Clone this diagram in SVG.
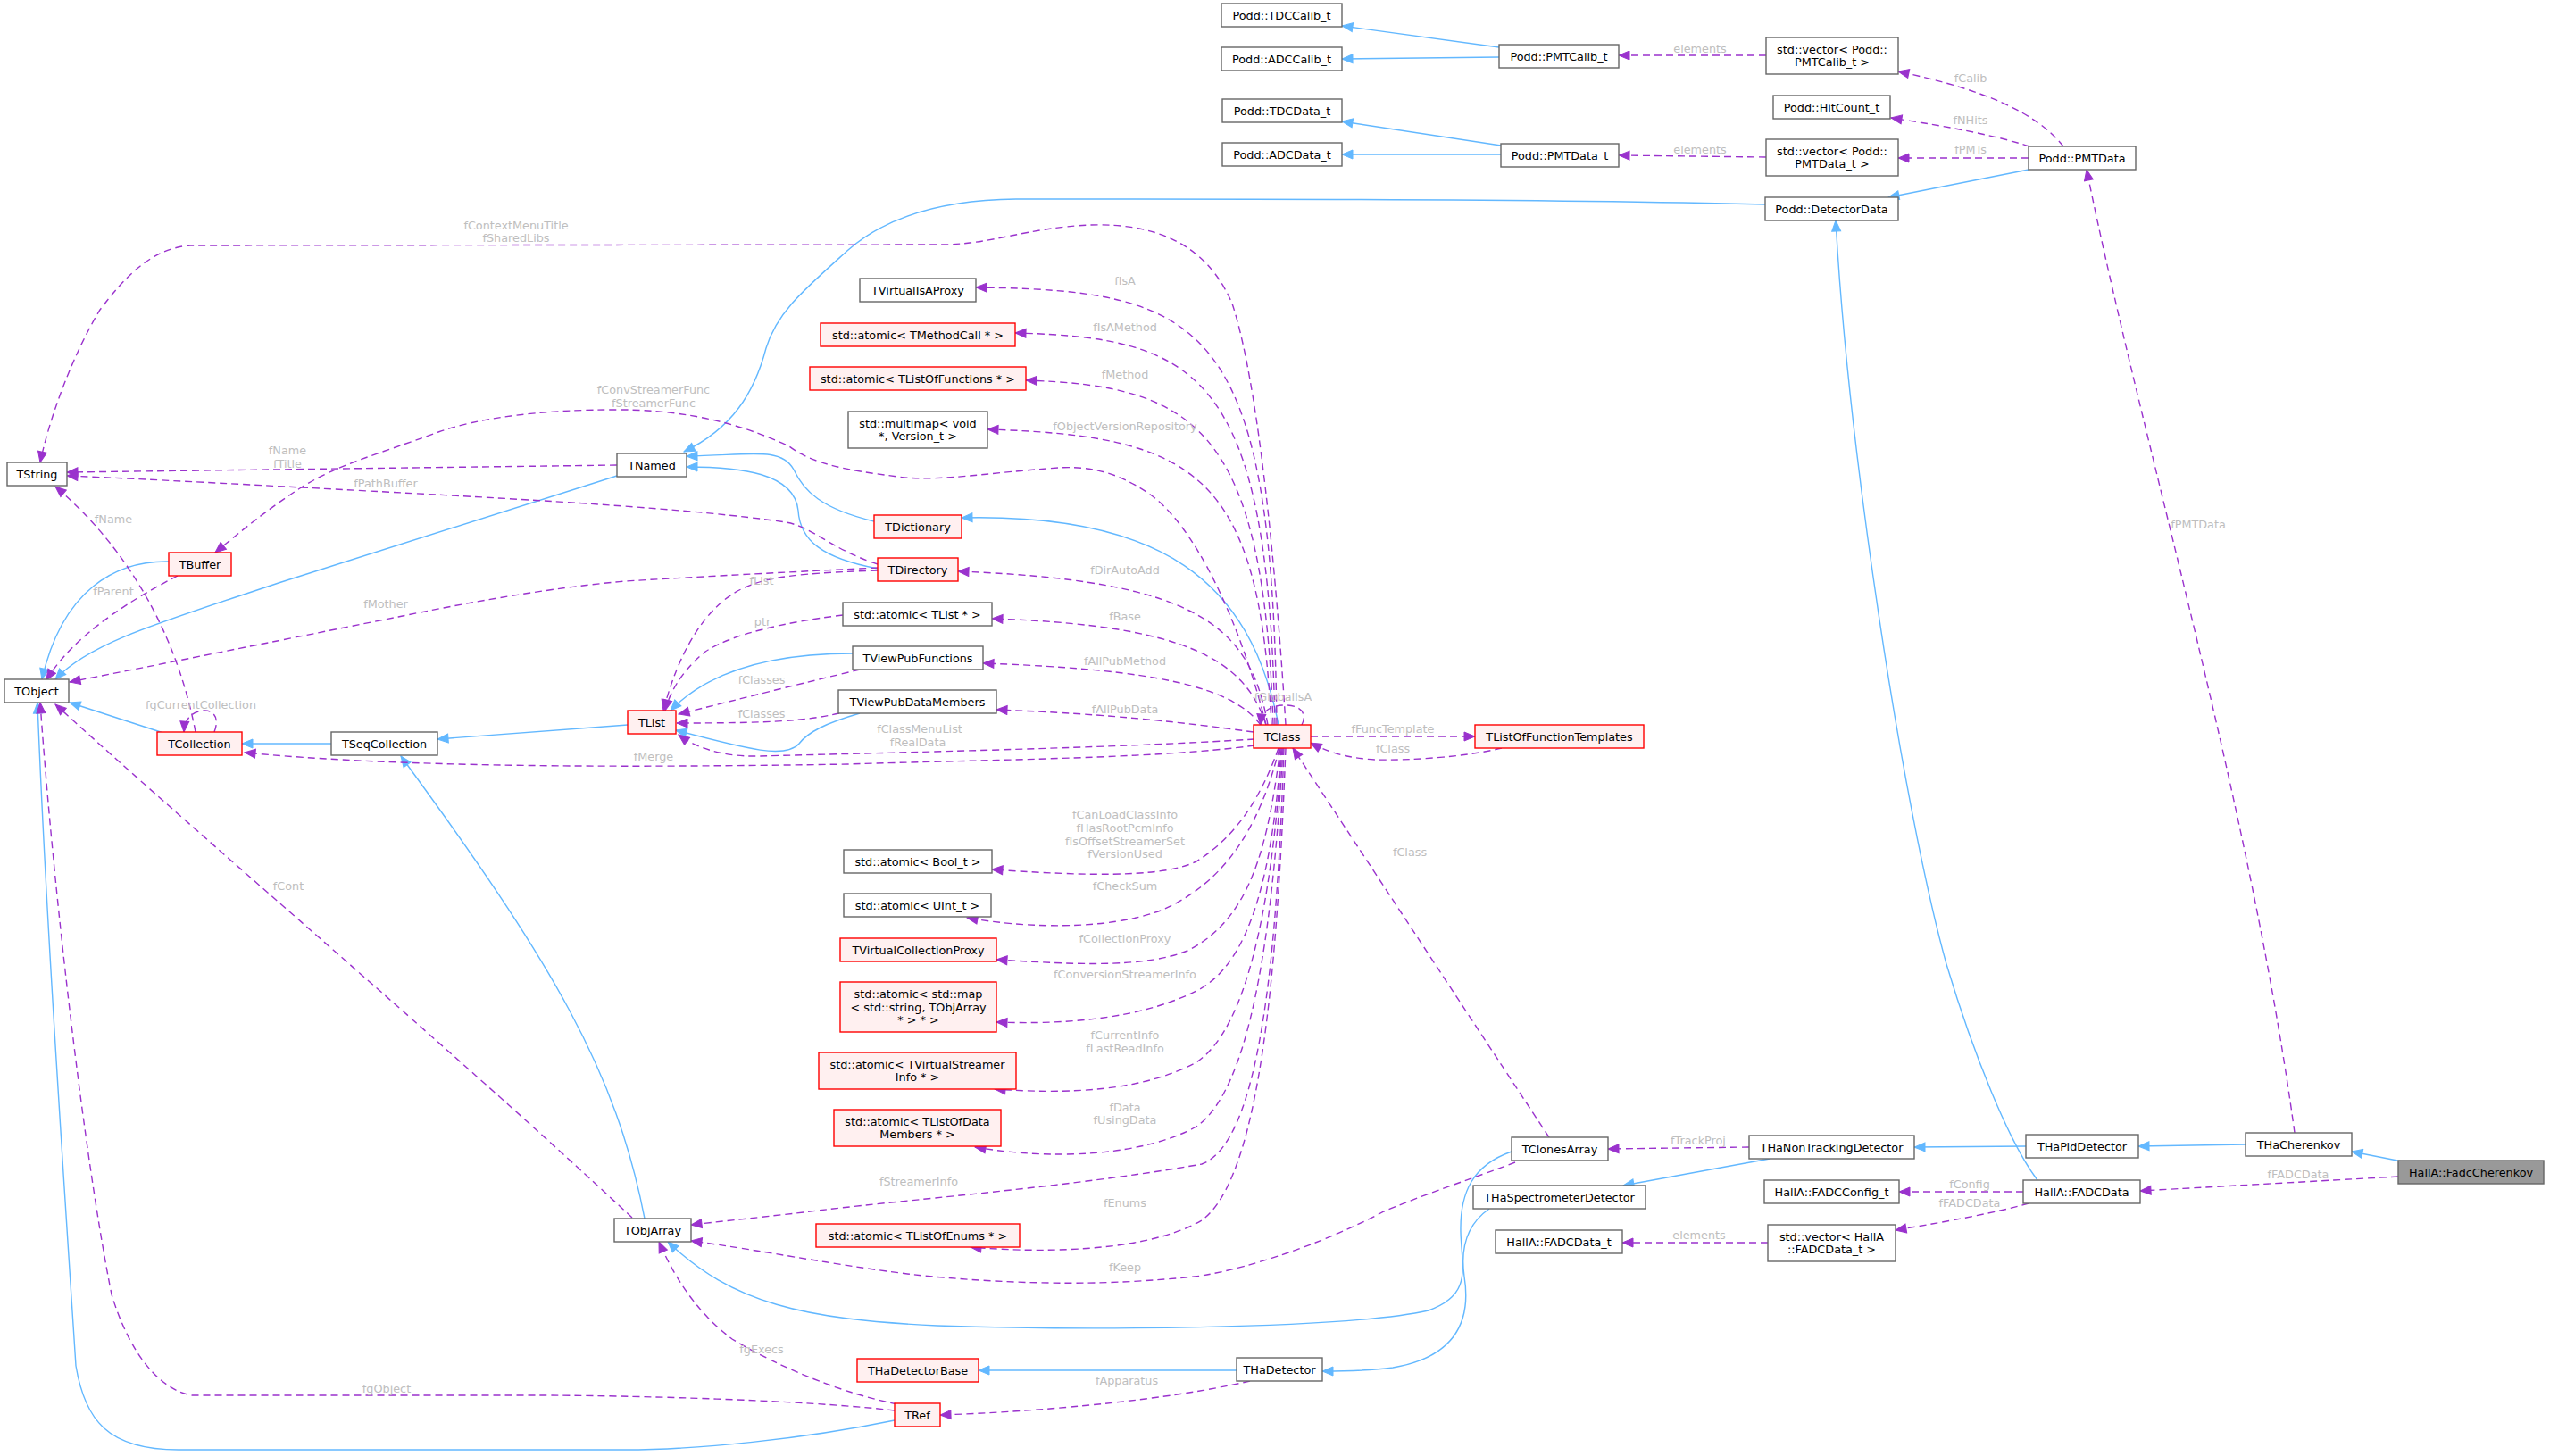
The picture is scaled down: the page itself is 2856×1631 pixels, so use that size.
<svg xmlns="http://www.w3.org/2000/svg" width="2856" height="1631" viewBox="0 0 2856 1631">
<style>
.n rect{fill:#fff;stroke:#666;stroke-width:1.4}
.n.r rect{fill:#FFF0F0;stroke:#FF0000}
.n.h rect{fill:#999;stroke:#666}
.n text{font-family:"DejaVu Sans",sans-serif;font-size:12.8px;fill:#000;text-anchor:middle}
.b{fill:none;stroke:#63B8FF;stroke-width:1.4}
.u{fill:none;stroke:#9A32CD;stroke-width:1.4;stroke-dasharray:8,5}
.l{font-family:"DejaVu Sans",sans-serif;font-size:12.8px;fill:#BEBEBE;text-anchor:middle}
</style>
<defs>
<marker id="ab" markerUnits="userSpaceOnUse" markerWidth="14" markerHeight="12" refX="13" refY="6" orient="auto"><path d="M1,1 L13,6 L1,11 z" fill="#63B8FF" stroke="#63B8FF"/></marker>
<marker id="ap" markerUnits="userSpaceOnUse" markerWidth="14" markerHeight="12" refX="13" refY="6" orient="auto"><path d="M1,1 L13,6 L1,11 z" fill="#9A32CD" stroke="#9A32CD"/></marker>
</defs>
<rect width="2856" height="1631" fill="#fff"/>
<g id="edges">
<!-- inheritance -->
<path class="b" marker-end="url(#ab)" d="M1679,53 L1503,29"/>
<path class="b" marker-end="url(#ab)" d="M1679,64 L1503,66"/>
<path class="b" marker-end="url(#ab)" d="M1681,163 L1503,136"/>
<path class="b" marker-end="url(#ab)" d="M1681,173 L1503,173"/>
<path class="b" marker-end="url(#ab)" d="M2272,190 L2115,221"/>
<path class="b" marker-end="url(#ab)" d="M1977,229 C1700,222 1300,223 1138,223 C1050,224 990,245 950,280 C900,325 870,350 858,390 C845,440 820,480 766,506"/>
<path class="b" marker-end="url(#ab)" d="M2282,1322 C2250,1280 2210,1180 2180,1080 C2130,900 2070,500 2056,247"/>
<path class="b" marker-end="url(#ab)" d="M2690,1301 L2634,1290"/>
<path class="b" marker-end="url(#ab)" d="M2515,1282 L2395,1284"/>
<path class="b" marker-end="url(#ab)" d="M2269,1284 L2144,1285"/>
<path class="b" marker-end="url(#ab)" d="M1982,1298 L1818,1328"/>
<path class="b" marker-end="url(#ab)" d="M1668,1354 C1645,1370 1635,1395 1640,1430 C1648,1480 1630,1520 1560,1532 C1530,1536 1500,1536 1481,1536"/>
<path class="b" marker-end="url(#ab)" d="M1385,1535 L1096,1535"/>
<path class="b" marker-end="url(#ab)" d="M1693,1290 C1650,1305 1635,1335 1636,1380 C1637,1420 1650,1450 1600,1468 C1500,1490 1200,1490 1050,1485 C900,1478 820,1460 748,1391"/>
<path class="b" marker-end="url(#ab)" d="M722,1365 C690,1200 620,1080 449,847"/>
<path class="b" marker-end="url(#ab)" d="M371,833 L271,833"/>
<path class="b" marker-end="url(#ab)" d="M183,821 L78,787"/>
<path class="b" marker-end="url(#ab)" d="M189,629 C130,628 70,660 47,761"/>
<path class="b" marker-end="url(#ab)" d="M691,533 L312,653 C180,697 100,720 62,761"/>
<path class="b" marker-end="url(#ab)" d="M979,584 C920,570 900,550 889,526 C875,500 840,510 769,511"/>
<path class="b" marker-end="url(#ab)" d="M983,637 C920,625 896,605 894,572 C890,530 830,523 769,523"/>
<path class="b" marker-end="url(#ab)" d="M955,732 C880,732 800,745 751,796"/>
<path class="b" marker-end="url(#ab)" d="M963,799 C925,810 905,820 895,833 C880,850 840,840 757,818"/>
<path class="b" marker-end="url(#ab)" d="M703,812 L490,828"/>
<path class="b" marker-end="url(#ab)" d="M1432,812 C1400,650 1300,575 1077,580"/>
<path class="b" marker-end="url(#ab)" d="M1002,1591 C900,1612 780,1624 700,1624 L200,1624 C120,1624 95,1590 85,1530 C70,1300 50,1000 42,787"/>
<!-- usage -->
<path class="u" marker-end="url(#ap)" d="M1978,62 L1813,62"/>
<text class="l" x="1904" y="59">elements</text>
<path class="u" marker-end="url(#ap)" d="M2311,164 C2280,125 2220,100 2126,80"/>
<text class="l" x="2207" y="92">fCalib</text>
<path class="u" marker-end="url(#ap)" d="M2273,164 C2230,150 2170,140 2118,132"/>
<text class="l" x="2207" y="139">fNHits</text>
<path class="u" marker-end="url(#ap)" d="M2272,177 L2126,177"/>
<text class="l" x="2207" y="172">fPMTs</text>
<path class="u" marker-end="url(#ap)" d="M1978,176 L1813,174"/>
<text class="l" x="1904" y="172">elements</text>
<path class="u" marker-end="url(#ap)" d="M2570,1269 C2520,900 2400,500 2337,190"/>
<text class="l" x="2462" y="592">fPMTData</text>
<path class="u" marker-end="url(#ap)" d="M2686,1318 L2397,1334"/>
<text class="l" x="2574" y="1320">fFADCData</text>
<path class="u" marker-end="url(#ap)" d="M1959,1285 L1801,1287"/>
<text class="l" x="1902" y="1282">fTrackProj</text>
<path class="u" marker-end="url(#ap)" d="M2266,1335 L2127,1335"/>
<text class="l" x="2206" y="1331">fConfig</text>
<path class="u" marker-end="url(#ap)" d="M2272,1348 C2230,1360 2170,1370 2123,1378"/>
<text class="l" x="2206" y="1352">fFADCData</text>
<path class="u" marker-end="url(#ap)" d="M1980,1392 L1817,1392"/>
<text class="l" x="1903" y="1388">elements</text>
<path class="u" marker-end="url(#ap)" d="M1400,1547 C1300,1570 1150,1582 1053,1585"/>
<text class="l" x="1262" y="1551">fApparatus</text>
<path class="u" marker-end="url(#ap)" d="M1005,1573 C940,1560 870,1530 820,1500 C780,1470 755,1430 738,1391"/>
<text class="l" x="853" y="1516">fgExecs</text>
<path class="u" marker-end="url(#ap)" d="M1002,1580 C900,1568 700,1563 600,1563 L215,1563 C170,1555 140,1500 125,1450 C95,1300 60,1000 45,787"/>
<text class="l" x="433" y="1560">fgObject</text>
<path class="u" marker-end="url(#ap)" d="M708,1364 C500,1170 250,960 62,789"/>
<text class="l" x="323" y="997">fCont</text>
<path class="u" marker-end="url(#ap)" d="M219,820 C200,720 150,620 62,545"/>
<text class="l" x="127" y="586">fName</text>
<path class="u" marker-end="url(#ap)" d="M240,820 C246,805 240,795 228,796 C215,797 207,805 206,820"/>
<text class="l" x="225" y="794">fgCurrentCollection</text>
<path class="u" marker-end="url(#ap)" d="M199,645 C140,675 80,715 52,762"/>
<text class="l" x="127" y="667">fParent</text>
<path class="u" marker-end="url(#ap)" d="M1418,812 C1390,700 1340,590 1287,553 C1250,528 1220,522 1185,524 C1100,530 1050,540 1006,534 C950,527 910,520 884,500 C820,470 760,460 700,459 C600,458 530,470 491,484 C420,510 380,520 339,545 C300,570 270,595 241,619"/>
<text class="l" x="732" y="441">fConvStreamerFunc</text>
<text class="l" x="732" y="456">fStreamerFunc</text>
<path class="u" marker-end="url(#ap)" d="M691,521 L75,529"/>
<text class="l" x="322" y="509">fName</text>
<text class="l" x="322" y="524">fTitle</text>
<path class="u" marker-end="url(#ap)" d="M983,632 C930,615 910,590 880,585 C780,570 600,560 432,551 C300,544 170,537 75,533"/>
<text class="l" x="432" y="546">fPathBuffer</text>
<path class="u" marker-end="url(#ap)" d="M983,636 C900,640 800,645 700,651 C600,660 500,680 446,691 C300,720 150,750 78,764"/>
<text class="l" x="432" y="681">fMother</text>
<path class="u" marker-end="url(#ap)" d="M983,639 C900,642 860,645 830,660 C790,680 760,730 743,796"/>
<text class="l" x="853" y="655">fList</text>
<path class="u" marker-end="url(#ap)" d="M944,689 C880,697 820,710 790,730 C765,750 750,775 745,796"/>
<text class="l" x="854" y="701">ptr</text>
<path class="u" marker-end="url(#ap)" d="M963,750 C900,765 820,785 760,800"/>
<text class="l" x="853" y="766">fClasses</text>
<path class="u" marker-end="url(#ap)" d="M940,799 C900,808 860,810 758,810"/>
<text class="l" x="853" y="804">fClasses</text>
<path class="u" marker-end="url(#ap)" d="M1405,828 C1250,838 1000,843 850,847 C810,848 780,838 760,823"/>
<text class="l" x="1030" y="821">fClassMenuList</text>
<text class="l" x="1028" y="836">fRealData</text>
<path class="u" marker-end="url(#ap)" d="M1405,835 C1300,850 1100,851 950,856 C700,860 450,860 274,843"/>
<text class="l" x="732" y="852">fMerge</text>
<path class="u" marker-end="url(#ap)" d="M1440,812 C1430,650 1410,430 1380,340 C1350,270 1290,250 1221,252 C1150,255 1110,274 1055,274 L213,275 C170,278 140,310 112,347 C80,400 55,470 45,518"/>
<text class="l" x="578" y="257">fContextMenuTitle</text>
<text class="l" x="578" y="271">fSharedLibs</text>
<path class="u" marker-end="url(#ap)" d="M1430,812 C1425,360 1350,325 1093,322"/>
<text class="l" x="1260" y="319">fIsA</text>
<path class="u" marker-end="url(#ap)" d="M1428,812 C1420,420 1345,378 1137,373"/>
<text class="l" x="1260" y="371">fIsAMethod</text>
<path class="u" marker-end="url(#ap)" d="M1426,812 C1415,480 1340,432 1149,426"/>
<text class="l" x="1260" y="424">fMethod</text>
<path class="u" marker-end="url(#ap)" d="M1424,812 C1410,530 1340,488 1106,481"/>
<text class="l" x="1260" y="482">fObjectVersionRepository</text>
<path class="u" marker-end="url(#ap)" d="M1420,812 C1400,700 1340,650 1073,640"/>
<text class="l" x="1260" y="643">fDirAutoAdd</text>
<path class="u" marker-end="url(#ap)" d="M1418,812 C1395,740 1330,700 1111,693"/>
<text class="l" x="1260" y="695">fBase</text>
<path class="u" marker-end="url(#ap)" d="M1412,812 C1380,770 1300,750 1101,743"/>
<text class="l" x="1260" y="745">fAllPubMethod</text>
<path class="u" marker-end="url(#ap)" d="M1404,820 C1330,810 1250,800 1116,795"/>
<text class="l" x="1260" y="799">fAllPubData</text>
<path class="u" marker-end="url(#ap)" d="M1458,812 C1465,798 1455,790 1440,790 C1420,790 1413,798 1412,812"/>
<text class="l" x="1437" y="785">fGlobalIsA</text>
<path class="u" marker-end="url(#ap)" d="M1468,825 L1652,825"/>
<text class="l" x="1560" y="821">fFuncTemplate</text>
<path class="u" marker-end="url(#ap)" d="M1682,838 C1640,848 1580,852 1540,851 C1510,849 1490,844 1468,832"/>
<text class="l" x="1560" y="843">fClass</text>
<path class="u" marker-end="url(#ap)" d="M1735,1274 L1448,838"/>
<text class="l" x="1579" y="959">fClass</text>
<path class="u" marker-end="url(#ap)" d="M1432,838 C1410,900 1380,940 1340,965 C1300,985 1200,980 1111,974"/>
<text class="l" x="1260" y="917">fCanLoadClassInfo</text>
<text class="l" x="1260" y="932">fHasRootPcmInfo</text>
<text class="l" x="1260" y="947">fIsOffsetStreamerSet</text>
<text class="l" x="1260" y="961">fVersionUsed</text>
<path class="u" marker-end="url(#ap)" d="M1433,838 C1410,930 1370,990 1300,1020 C1240,1042 1150,1040 1083,1028"/>
<text class="l" x="1260" y="997">fCheckSum</text>
<path class="u" marker-end="url(#ap)" d="M1434,838 C1420,950 1400,1030 1330,1065 C1280,1085 1200,1080 1116,1075"/>
<text class="l" x="1260" y="1056">fCollectionProxy</text>
<path class="u" marker-end="url(#ap)" d="M1435,838 C1425,980 1400,1080 1340,1110 C1280,1140 1200,1148 1116,1145"/>
<text class="l" x="1260" y="1096">fConversionStreamerInfo</text>
<path class="u" marker-end="url(#ap)" d="M1436,838 C1425,1000 1400,1150 1340,1190 C1280,1222 1200,1226 1114,1220"/>
<text class="l" x="1260" y="1164">fCurrentInfo</text>
<text class="l" x="1260" y="1179">fLastReadInfo</text>
<path class="u" marker-end="url(#ap)" d="M1437,838 C1425,1050 1400,1220 1340,1262 C1280,1295 1180,1300 1092,1285"/>
<text class="l" x="1260" y="1245">fData</text>
<text class="l" x="1260" y="1259">fUsingData</text>
<path class="u" marker-end="url(#ap)" d="M1438,838 C1430,1080 1410,1280 1346,1304 C1200,1330 1000,1345 900,1358 C830,1366 800,1369 774,1372"/>
<text class="l" x="1029" y="1328">fStreamerInfo</text>
<path class="u" marker-end="url(#ap)" d="M1440,838 C1430,1100 1410,1320 1346,1367 C1290,1400 1180,1405 1087,1397"/>
<text class="l" x="1260" y="1352">fEnums</text>
<path class="u" marker-end="url(#ap)" d="M1697,1302 C1650,1320 1600,1336 1550,1357 C1480,1394 1400,1420 1346,1429 C1250,1440 1150,1440 1034,1429 C950,1420 850,1400 774,1390"/>
<text class="l" x="1260" y="1424">fKeep</text>
</g>
<g id="nodes">
<g id="n-TDCCalib" class="n"><rect x="1368" y="4" width="135" height="26"/><text x="1435.5" y="21.5">Podd::TDCCalib_t</text></g>
<g id="n-ADCCalib" class="n"><rect x="1368" y="53" width="135" height="26"/><text x="1435.5" y="70.5">Podd::ADCCalib_t</text></g>
<g id="n-PMTCalib" class="n"><rect x="1679" y="50" width="134" height="26"/><text x="1746" y="67.5">Podd::PMTCalib_t</text></g>
<g id="n-VecPMTCalib" class="n"><rect x="1978" y="42" width="148" height="41"/><text x="2052" y="59.75">std::vector&lt; Podd::</text><text x="2052" y="74.25">PMTCalib_t &gt;</text></g>
<g id="n-HitCount" class="n"><rect x="1986" y="107" width="131" height="26"/><text x="2051.5" y="124.5">Podd::HitCount_t</text></g>
<g id="n-TDCData" class="n"><rect x="1369" y="111" width="134" height="26"/><text x="1436" y="128.5">Podd::TDCData_t</text></g>
<g id="n-ADCData" class="n"><rect x="1369" y="160" width="134" height="26"/><text x="1436" y="177.5">Podd::ADCData_t</text></g>
<g id="n-PMTDataT" class="n"><rect x="1681" y="161" width="132" height="26"/><text x="1747" y="178.5">Podd::PMTData_t</text></g>
<g id="n-VecPMTData" class="n"><rect x="1978" y="156" width="148" height="41"/><text x="2052" y="173.75">std::vector&lt; Podd::</text><text x="2052" y="188.25">PMTData_t &gt;</text></g>
<g id="n-PMTData" class="n"><rect x="2272" y="164" width="120" height="26"/><text x="2332" y="181.5">Podd::PMTData</text></g>
<g id="n-DetectorData" class="n"><rect x="1977" y="221" width="149" height="26"/><text x="2051.5" y="238.5">Podd::DetectorData</text></g>
<g id="n-TString" class="n"><rect x="8" y="518" width="67" height="26"/><text x="41.5" y="535.5">TString</text></g>
<g id="n-TNamed" class="n"><rect x="691" y="508" width="78" height="26"/><text x="730" y="525.5">TNamed</text></g>
<g id="n-TBuffer" class="n r"><rect x="189" y="619" width="70" height="26"/><text x="224" y="636.5">TBuffer</text></g>
<g id="n-TObject" class="n"><rect x="5" y="761" width="72" height="26"/><text x="41" y="778.5">TObject</text></g>
<g id="n-TCollection" class="n r"><rect x="176" y="820" width="95" height="26"/><text x="223.5" y="837.5">TCollection</text></g>
<g id="n-TSeqCollection" class="n"><rect x="371" y="820" width="119" height="26"/><text x="430.5" y="837.5">TSeqCollection</text></g>
<g id="n-TList" class="n r"><rect x="703" y="796" width="54" height="26"/><text x="730" y="813.5">TList</text></g>
<g id="n-TVirtualIsAProxy" class="n"><rect x="963" y="312" width="130" height="26"/><text x="1028" y="329.5">TVirtualIsAProxy</text></g>
<g id="n-AtomicMethodCall" class="n r"><rect x="919" y="362" width="218" height="26"/><text x="1028" y="379.5">std::atomic&lt; TMethodCall * &gt;</text></g>
<g id="n-AtomicListOfFunctions" class="n r"><rect x="907" y="411" width="242" height="26"/><text x="1028" y="428.5">std::atomic&lt; TListOfFunctions * &gt;</text></g>
<g id="n-Multimap" class="n"><rect x="950" y="461" width="156" height="41"/><text x="1028" y="478.75">std::multimap&lt; void</text><text x="1028" y="493.25">*, Version_t &gt;</text></g>
<g id="n-TDictionary" class="n r"><rect x="979" y="577" width="98" height="26"/><text x="1028" y="594.5">TDictionary</text></g>
<g id="n-TDirectory" class="n r"><rect x="983" y="625" width="90" height="26"/><text x="1028" y="642.5">TDirectory</text></g>
<g id="n-AtomicTList" class="n"><rect x="944" y="675" width="167" height="26"/><text x="1027.5" y="692.5">std::atomic&lt; TList * &gt;</text></g>
<g id="n-TViewPubFunctions" class="n"><rect x="955" y="724" width="146" height="26"/><text x="1028" y="741.5">TViewPubFunctions</text></g>
<g id="n-TViewPubDataMembers" class="n"><rect x="939" y="773" width="177" height="26"/><text x="1027.5" y="790.5">TViewPubDataMembers</text></g>
<g id="n-TClass" class="n r"><rect x="1404" y="812" width="64" height="26"/><text x="1436" y="829.5">TClass</text></g>
<g id="n-TListOfFunctionTemplates" class="n r"><rect x="1652" y="812" width="189" height="26"/><text x="1746.5" y="829.5">TListOfFunctionTemplates</text></g>
<g id="n-AtomicBool" class="n"><rect x="945" y="952" width="166" height="26"/><text x="1028" y="969.5">std::atomic&lt; Bool_t &gt;</text></g>
<g id="n-AtomicUInt" class="n"><rect x="945" y="1001" width="165" height="26"/><text x="1027.5" y="1018.5">std::atomic&lt; UInt_t &gt;</text></g>
<g id="n-TVirtualCollectionProxy" class="n r"><rect x="941" y="1051" width="175" height="26"/><text x="1028.5" y="1068.5">TVirtualCollectionProxy</text></g>
<g id="n-AtomicMap" class="n r"><rect x="941" y="1100" width="175" height="56"/><text x="1028.5" y="1118">std::atomic&lt; std::map</text><text x="1028.5" y="1132.5">&lt; std::string, TObjArray</text><text x="1028.5" y="1147">* &gt; * &gt;</text></g>
<g id="n-AtomicStreamerInfo" class="n r"><rect x="917" y="1179" width="221" height="41"/><text x="1027.5" y="1196.75">std::atomic&lt; TVirtualStreamer</text><text x="1027.5" y="1211.25">Info * &gt;</text></g>
<g id="n-AtomicDataMembers" class="n r"><rect x="934" y="1243" width="187" height="41"/><text x="1027.5" y="1260.75">std::atomic&lt; TListOfData</text><text x="1027.5" y="1275.25">Members * &gt;</text></g>
<g id="n-TObjArray" class="n"><rect x="688" y="1365" width="86" height="26"/><text x="731" y="1382.5">TObjArray</text></g>
<g id="n-AtomicEnums" class="n r"><rect x="914" y="1371" width="228" height="26"/><text x="1028" y="1388.5">std::atomic&lt; TListOfEnums * &gt;</text></g>
<g id="n-TClonesArray" class="n"><rect x="1693" y="1274" width="108" height="26"/><text x="1747" y="1291.5">TClonesArray</text></g>
<g id="n-THaSpectrometerDetector" class="n"><rect x="1650" y="1328" width="193" height="26"/><text x="1746.5" y="1345.5">THaSpectrometerDetector</text></g>
<g id="n-THaNonTrackingDetector" class="n"><rect x="1959" y="1272" width="185" height="26"/><text x="2051.5" y="1289.5">THaNonTrackingDetector</text></g>
<g id="n-THaPidDetector" class="n"><rect x="2269" y="1271" width="126" height="26"/><text x="2332" y="1288.5">THaPidDetector</text></g>
<g id="n-THaCherenkov" class="n"><rect x="2515" y="1269" width="119" height="26"/><text x="2574.5" y="1286.5">THaCherenkov</text></g>
<g id="n-FadcCherenkov" class="n h"><rect x="2686" y="1300" width="163" height="26"/><text x="2767.5" y="1317.5">HallA::FadcCherenkov</text></g>
<g id="n-FADCData" class="n"><rect x="2266" y="1322" width="131" height="26"/><text x="2331.5" y="1339.5">HallA::FADCData</text></g>
<g id="n-FADCConfig" class="n"><rect x="1976" y="1322" width="151" height="26"/><text x="2051.5" y="1339.5">HallA::FADCConfig_t</text></g>
<g id="n-FADCDataT" class="n"><rect x="1675" y="1378" width="142" height="26"/><text x="1746" y="1395.5">HallA::FADCData_t</text></g>
<g id="n-VecFADCData" class="n"><rect x="1980" y="1372" width="143" height="41"/><text x="2051.5" y="1389.75">std::vector&lt; HallA</text><text x="2051.5" y="1404.25">::FADCData_t &gt;</text></g>
<g id="n-THaDetectorBase" class="n r"><rect x="960" y="1522" width="136" height="26"/><text x="1028" y="1539.5">THaDetectorBase</text></g>
<g id="n-THaDetector" class="n"><rect x="1385" y="1521" width="96" height="26"/><text x="1433" y="1538.5">THaDetector</text></g>
<g id="n-TRef" class="n r"><rect x="1002" y="1572" width="51" height="26"/><text x="1027.5" y="1589.5">TRef</text></g>
</g>
</svg>
